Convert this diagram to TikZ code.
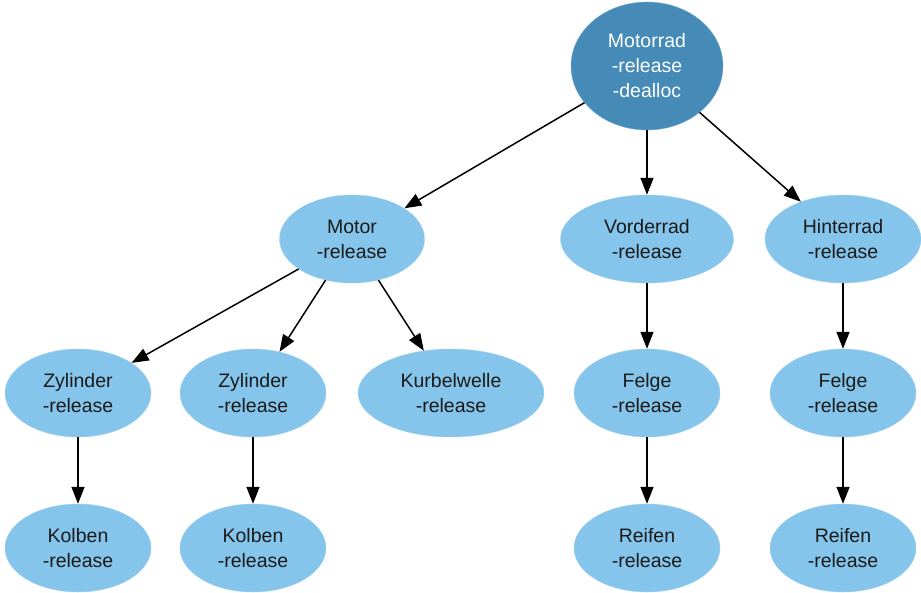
\documentclass[tikz,border=0pt]{standalone}
\usepackage{fontspec}
\setmainfont{Liberation Sans}
\usetikzlibrary{shapes.geometric,arrows.meta}
\definecolor{objblue}{HTML}{86C5EB}
\definecolor{objedge}{HTML}{9DD1F0}
\definecolor{rootblue}{HTML}{468BB8}
\definecolor{rootedge}{HTML}{6FAAD3}
\definecolor{txt}{HTML}{1A1A1A}
\tikzset{
  obj/.style={ellipse, draw=objedge, fill=objblue, text=txt, inner sep=0pt,
    minimum height=88pt, align=center,
    font=\fontsize{19.5}{25}\selectfont},
  root/.style={obj, draw=rootedge, fill=rootblue, text=white, minimum height=128pt},
  link/.style={-{Triangle[length=17pt,width=13pt]}, line width=1.5pt, black}
}
\begin{document}
\begin{tikzpicture}
  [x=1pt,y=-1pt]
  \useasboundingbox (0,0) rectangle (921,592);

  \node[root, minimum width=152pt] (motorrad) at (647,66) {Motorrad\\-release\\-dealloc};

  % second row
  \node[obj, minimum width=145pt] (motor)     at (352,239) {Motor\\-release};
  \node[obj, minimum width=173pt] (vorderrad) at (647,239) {Vorderrad\\-release};
  \node[obj, minimum width=156pt] (hinterrad) at (843,239) {Hinterrad\\-release};

  % third row
  \node[obj, minimum width=146pt] (zyl1)    at (78,393)  {Zylinder\\-release};
  \node[obj, minimum width=146pt] (zyl2)    at (253,393) {Zylinder\\-release};
  \node[obj, minimum width=186pt] (kurbel)  at (451,393) {Kurbelwelle\\-release};
  \node[obj, minimum width=146pt] (felge1)  at (647,393) {Felge\\-release};
  \node[obj, minimum width=146pt] (felge2)  at (843,393) {Felge\\-release};

  % last row
  \node[obj, minimum width=146pt] (kolben1) at (78,548)  {Kolben\\-release};
  \node[obj, minimum width=146pt] (kolben2) at (253,548) {Kolben\\-release};
  \node[obj, minimum width=146pt] (reifen1) at (647,548) {Reifen\\-release};
  \node[obj, minimum width=146pt] (reifen2) at (843,548) {Reifen\\-release};

  \draw[link] (motorrad) -- (motor);
  \draw[link] (motorrad) -- (vorderrad);
  \draw[link] (motorrad) -- (hinterrad);

  \draw[link] (motor) -- (zyl1);
  \draw[link] (motor) -- (zyl2);
  \draw[link] (motor) -- (kurbel);
  \draw[link] (vorderrad) -- (felge1);
  \draw[link] (hinterrad) -- (felge2);

  \draw[link] (zyl1) -- (kolben1);
  \draw[link] (zyl2) -- (kolben2);
  \draw[link] (felge1) -- (reifen1);
  \draw[link] (felge2) -- (reifen2);
\end{tikzpicture}
\end{document}
